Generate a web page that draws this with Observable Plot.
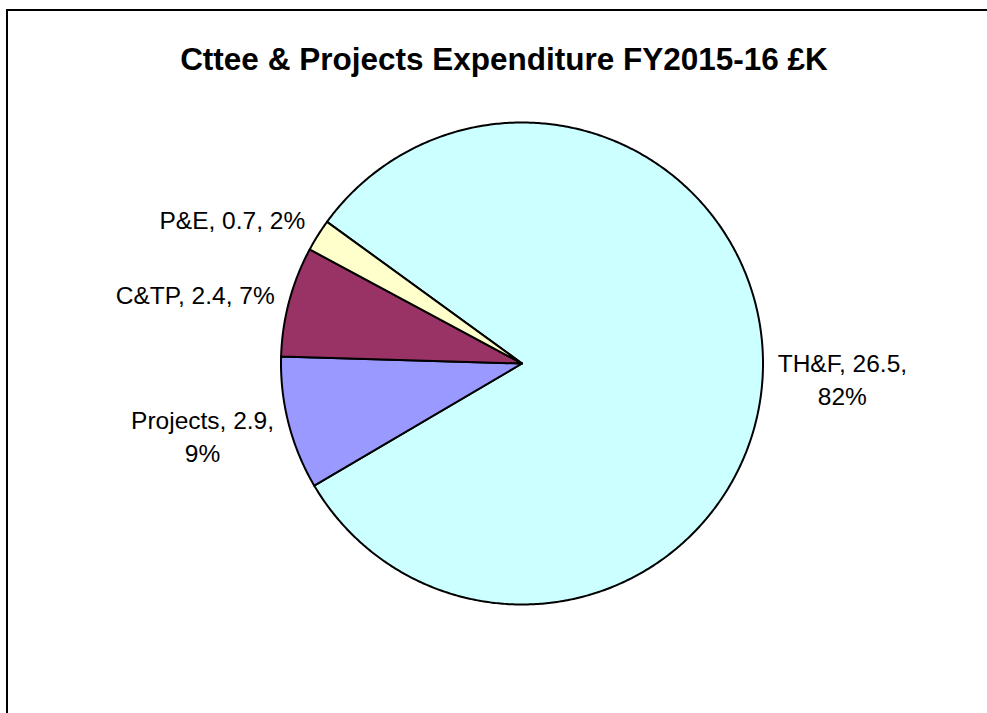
<!DOCTYPE html>
<html><head><meta charset="utf-8">
<script src="https://cdn.jsdelivr.net/npm/d3@7"></script>
<script src="https://cdn.jsdelivr.net/npm/@observablehq/plot@0.6"></script>
<style>
body{margin:0;background:#fff;overflow:hidden;}
#wrap{position:relative;width:987px;height:713px;overflow:hidden;background:#fff;}
#frame{position:absolute;left:6px;top:9px;width:981px;height:704px;border-top:2px solid #000;border-left:2px solid #000;box-sizing:border-box;}
#title{position:absolute;left:20px;width:968px;top:41px;line-height:36px;text-align:center;font-weight:bold;font-size:31.5px;font-family:'Liberation Sans',Arial,sans-serif;color:#000;white-space:nowrap;}
#chart{position:absolute;left:0;top:90px;}
</style></head>
<body>
<div id="wrap"><div id="frame"></div><div id="title">Cttee &amp; Projects Expenditure FY2015-16 £K</div><div id="chart"></div></div>
<script>
// Data (clockwise order)
const names = ["TH&F", "Projects", "C&TP", "P&E"];
const values = [26.5, 2.9, 2.4, 0.7];
const colors = ["#CCFFFF", "#9999FF", "#993366", "#FFFFCC"];

// Layout
const W = 987, H = 623;
const cx = 521.5, cy = 273, R = 241;
const startAngle = 306; // degrees clockwise from 12 o'clock
const fontSize = 24.5, lineHeight = 1.35, labelGap = 15, maxLabelWidth = 168;
const fontFamily = "'Liberation Sans', Arial, sans-serif";

const total = d3.sum(values);
const slices = [];
let acc = startAngle;
names.forEach((n, i) => {
  const span = values[i] / total * 360;
  slices.push({name: n, value: values[i], a0: acc, a1: acc + span, pct: Math.round(values[i] / total * 100)});
  acc += span;
});

const rad = d => d * Math.PI / 180;
const pts = [];
for (const s of slices) {
  pts.push({name: s.name, x: 0, y: 0});
  const n = Math.max(2, Math.ceil((s.a1 - s.a0) / 0.5));
  for (let k = 0; k <= n; k++) {
    const a = rad(s.a0 + (s.a1 - s.a0) * k / n);
    pts.push({name: s.name, x: Math.sin(a), y: Math.cos(a)});
  }
}

// Label text and wrapping
const ctx = document.createElement("canvas").getContext("2d");
ctx.font = `${fontSize}px ${fontFamily}`;
function wrap(str) {
  const words = str.split(" ");
  const lines = [];
  let cur = "";
  for (const w of words) {
    const t = cur ? cur + " " + w : w;
    if (cur && ctx.measureText(t).width > maxLabelWidth) { lines.push(cur); cur = w; }
    else cur = t;
  }
  if (cur) lines.push(cur);
  return lines;
}
const labels = slices.map(s => {
  const lines = wrap(`${s.name}, ${s.value}, ${s.pct}%`);
  const w = d3.max(lines, l => ctx.measureText(l).width);
  const h = lines.length * fontSize * lineHeight;
  const mid = rad((s.a0 + s.a1) / 2);
  const right = Math.sin(mid), up = Math.cos(mid);
  const px = cx + right * (R + labelGap);
  const py = cy - up * (R + labelGap);
  const bx = right < 0 ? px - w / 2 : px + w / 2;
  const by = py - h * up / 2;
  return {text: lines.join("\n"), x: (bx - cx) / R, y: (cy - by) / R};
});

const chart = Plot.plot({
  width: W, height: H,
  margin: 0,
  style: {background: "transparent", overflow: "visible"},
  x: {domain: [-1, 1], range: [cx - R, cx + R], axis: null},
  y: {domain: [-1, 1], range: [cy + R, cy - R], axis: null},
  color: {domain: names, range: colors},
  marks: [
    Plot.line(pts, {x: "x", y: "y", z: "name", fill: "name", stroke: "#000", strokeWidth: 2, strokeLinejoin: "round", curve: "linear-closed"}),
    Plot.text(labels, {x: "x", y: "y", text: "text", textAnchor: "middle", lineAnchor: "middle", lineHeight: lineHeight, fontSize: fontSize, fontFamily: fontFamily, fill: "#000"})
  ]
});
document.getElementById("chart").appendChild(chart);
</script>
</body></html>
